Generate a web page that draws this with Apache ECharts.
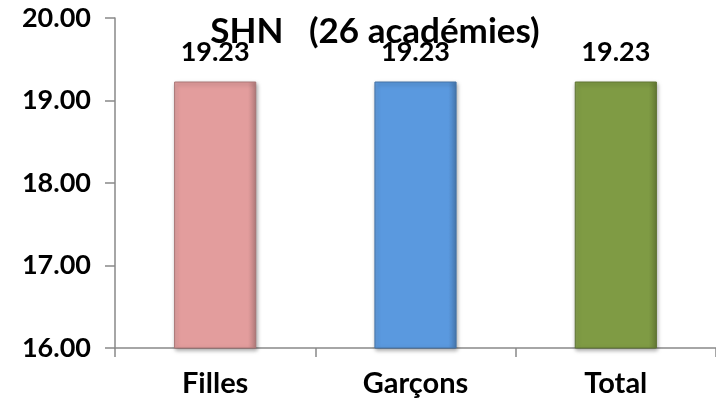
<!DOCTYPE html>
<html><head><meta charset="utf-8">
<script src="https://cdn.jsdelivr.net/npm/echarts@6/dist/echarts.min.js"></script>
<style>html,body{margin:0;padding:0;background:#fff}#c{width:716px;height:406px}</style>
</head><body><div id="c"></div>
<script>
const categories = ['Filles', 'Garçons', 'Total'];
const values = [19.23, 19.23, 19.23];
const barColors = ['#E39D9D', '#5A99DF', '#7F9B44'];
const titleText = 'SHN   (26 académies)';

const F = 'Lato, "Open Sans", sans-serif';
function shade(hex, f) {
  const n = parseInt(hex.slice(1), 16);
  let r = n >> 16, g = (n >> 8) & 255, b = n & 255;
  const m = c => Math.max(0, Math.min(255, Math.round(f > 0 ? c + (255 - c) * f : c * (1 + f))));
  return 'rgb(' + m(r) + ',' + m(g) + ',' + m(b) + ')';
}
const chart = echarts.init(document.getElementById('c'), null, {renderer: 'canvas'});
chart.setOption({
  animation: false,
  title: {text: titleText, left: 370, top: 9, textAlign: 'center',
    textStyle: {fontFamily: F, fontWeight: 'bold', fontSize: 35, color: '#000'}},
  grid: {left: 115, right: 0, top: 18, bottom: 58, containLabel: false},
  xAxis: {type: 'category', data: categories,
    axisLine: {lineStyle: {color: '#898989', width: 1.5}},
    axisTick: {show: true, length: 9, lineStyle: {color: '#898989', width: 1.5}},
    axisLabel: {fontFamily: F, fontWeight: 'bold', fontSize: 29, color: '#000', margin: 21}},
  yAxis: {type: 'value', min: 16, max: 20, interval: 1,
    axisLine: {show: true, lineStyle: {color: '#898989', width: 1.5}},
    axisTick: {show: true, length: 10, lineStyle: {color: '#898989', width: 1.5}},
    splitLine: {show: false},
    axisLabel: {fontFamily: F, fontWeight: 'bold', fontSize: 27, color: '#000', margin: 24,
      formatter: v => v.toFixed(2)}},
  series: [{
    type: 'bar', barWidth: '41%',
    data: values.map((v, i) => ({value: v, itemStyle: {
      color: {type: 'linear', x: 0, y: 0, x2: 1, y2: 0, colorStops: [
        {offset: 0, color: shade(barColors[i], 0.08)},
        {offset: 0.06, color: barColors[i]},
        {offset: 0.9, color: barColors[i]},
        {offset: 1, color: shade(barColors[i], -0.2)}]},
      borderColor: shade(barColors[i], -0.25), borderWidth: 1,
      shadowColor: 'rgba(0,0,0,0.35)', shadowBlur: 4, shadowOffsetX: 1, shadowOffsetY: 2}})),
    label: {show: true, position: 'top', distance: 16, fontFamily: F, fontWeight: 'bold',
      fontSize: 27, color: '#000', formatter: p => p.value.toFixed(2)}
  }]
});
</script></body></html>
